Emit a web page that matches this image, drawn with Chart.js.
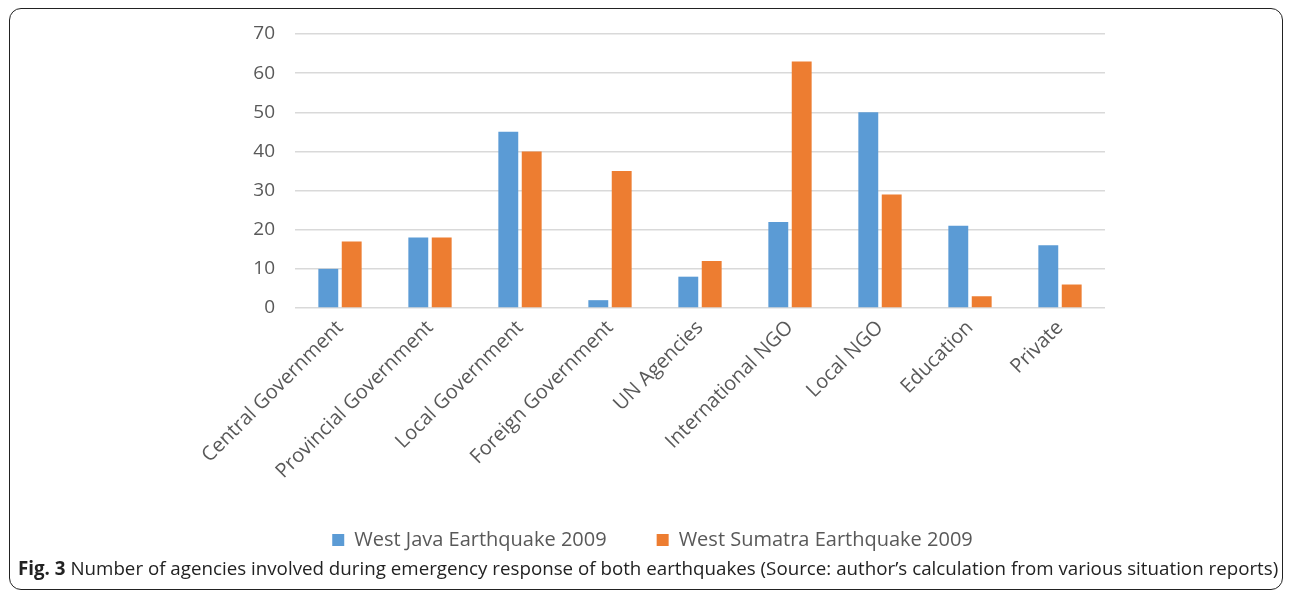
<!DOCTYPE html>
<html lang="en">
<head>
    <meta charset="UTF-8">
    <title>Agencies involved in emergency response</title>
    <script src="https://cdn.jsdelivr.net/npm/chart.js"></script>
    <style>
        body { margin: 0; background: #fff; width: 1292px; height: 599px; overflow: hidden; position: relative; }
        #frame {
            position: absolute; left: 9px; top: 8px; width: 1272px; height: 580px;
            border: 1.5px solid #222; border-radius: 12px;
        }
        #chartContainer { position: absolute; left: 0; top: 0; width: 1292px; height: 560px; }
        #caption {
            position: absolute; left: 18px; top: 555px;
            font-family: "Open Sans", sans-serif; font-size: 19px; color: #222;
            white-space: nowrap; transform-origin: 0 0;
        }
        #caption b { font-weight: 700; }
    </style>
</head>
<body>
<div id="frame"></div>
<div id="chartContainer">
    <canvas id="barCanvas"></canvas>
</div>
<div id="caption"><b>Fig. 3</b> Number of agencies involved during emergency response of both earthquakes (Source: author’s calculation from various situation reports)</div>

<script type="text/javascript">
    // categories and series
    const categories = ['Central Government', 'Provincial Government', 'Local Government', 'Foreign Government',
        'UN Agencies', 'International NGO', 'Local NGO', 'Education', 'Private'];
    const westJava = [10, 18, 45, 2, 8, 22, 50, 21, 16];
    const westSumatra = [17, 18, 40, 35, 12, 63, 29, 3, 6];
    const yTicks = [0, 10, 20, 30, 40, 50, 60, 70];

    // squeeze the caption into the frame width like the narrow original
    const cap = document.getElementById('caption');
    cap.style.transform = 'scaleX(' + (1260 / cap.offsetWidth) + ')';

    const yFont = { family: 'Open Sans', size: 19 };
    const xFont = { family: 'Open Sans', size: 20 };

    new Chart(document.getElementById('barCanvas').getContext('2d'), {
        type: 'bar',
        data: {
            labels: categories,
            datasets: [
                { label: 'West Java Earthquake 2009', data: westJava, backgroundColor: '#5B9BD5' },
                { label: 'West Sumatra Earthquake 2009', data: westSumatra, backgroundColor: '#ED7D31' }
            ]
        },
        options: {
            responsive: true,
            maintainAspectRatio: false,
            animation: false,
            categoryPercentage: 0.52,
            barPercentage: 0.85,
            layout: { padding: { left: 200, right: 187, top: 34, bottom: 0 } },
            scales: {
                x: {
                    grid: { display: false, drawTicks: false },
                    border: { display: false },
                    ticks: { color: '#595959', font: xFont, minRotation: 45, maxRotation: 45, padding: 8 },
                    afterFit: function (scale) { scale.height = 172; }
                },
                y: {
                    min: 0,
                    max: 70,
                    afterBuildTicks: function (scale) { scale.ticks = yTicks.map(v => ({ value: v })); },
                    grid: { color: '#d9d9d9', lineWidth: 1.5, drawTicks: false },
                    border: { display: false },
                    ticks: { color: '#595959', font: yFont, padding: 20 },
                    afterFit: function (scale) { scale.width = 95; }
                }
            },
            plugins: {
                legend: {
                    position: 'bottom',
                    labels: { color: '#595959', font: xFont, boxWidth: 12, boxHeight: 12, padding: 50 }
                },
                tooltip: { enabled: false }
            }
        }
    });
</script>
</body>
</html>
